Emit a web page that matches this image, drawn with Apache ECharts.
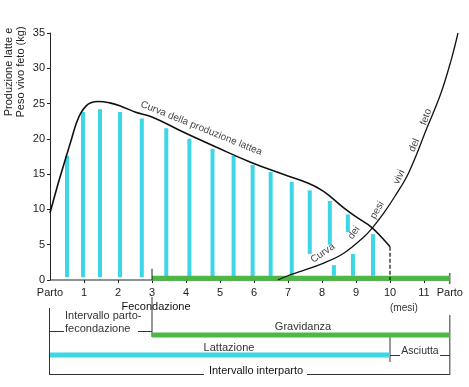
<!DOCTYPE html>
<html><head><meta charset="utf-8">
<script src="https://cdn.jsdelivr.net/npm/echarts@6/dist/echarts.min.js"></script>
<style>html,body{margin:0;padding:0;background:#fff}#c{width:469px;height:387px}</style>
</head><body><div id="c"></div>
<script>
// ---- data ----
const yTickValues = [0, 5, 10, 15, 20, 25, 30, 35];
const monthTickValues = [0, 1, 2, 3, 4, 5, 6, 7, 8, 9, 10, 11];
const partoEnd = 11.76;          // second "Parto" (end of interval)
const fecondazione = 3;          // month of conception
const fineLattazione = 10;       // end of lactation
const monthLabels = ['Parto', '1', '2', '3', '4', '5', '6', '7', '8', '9', '10', '11'];

// milk production bars (kg): month position, bottom, top
const barMonths  = [0.50, 0.97, 1.47, 2.06, 2.70, 3.42, 4.10, 4.78, 5.40, 5.96, 6.49, 7.11, 7.64, 8.23, 8.76, 9.50, 8.35, 8.91];
const barBottoms = [0.4, 0.4, 0.4, 0.4, 0.4, 0.4, 0.4, 0.4, 0.4, 0.4, 0.4, 0.4, 3.7, 5.0, 6.8, 0.6, 0.6, 0.6];
const barTops    = [17.6, 23.8, 24.2, 23.8, 22.9, 21.5, 20.0, 18.6, 17.6, 16.3, 15.3, 13.9, 12.7, 11.2, 9.3, 6.5, 2.1, 3.7];

// milk production curve
const milkMonths = [0, 0.2, 0.34, 0.49, 0.64, 0.76, 0.9, 1.05, 1.2, 1.42, 1.76, 2.1, 2.5, 3.0, 3.9, 4.9, 5.9, 6.9, 7.6, 8.0, 8.3, 8.65, 9.05, 9.45, 9.8, 10.0];
const milkValues = [9.5, 13.0, 15.3, 17.7, 20.1, 22.0, 23.6, 24.6, 25.1, 25.3, 25.1, 24.6, 23.8, 23.1, 21.0, 18.8, 16.7, 14.9, 13.7, 12.7, 11.6, 10.2, 8.8, 7.5, 5.8, 4.7];

// fetal live weight curve
const fetoMonths = [6.7, 7.0, 7.3, 8.05, 8.64, 9.23, 9.5, 9.82, 10.15, 10.55, 11.1, 11.5, 11.8, 12.0];
const fetoValues = [0, 0.6, 1.1, 2.4, 3.8, 6.1, 7.5, 9.5, 11.9, 15.2, 21.7, 26.5, 31.2, 35.0];

// curve annotations
const milkLabelText = ['Curva della produzione lattea'];
const milkLabelMonth = [4.45];
const milkLabelValue = [21.5];
const fetoLabelText = ['Curva', 'dei', 'pesi', 'vivi', 'del', 'feto'];
const fetoLabelMonth = [8.02, 8.94, 9.62, 10.27, 10.71, 11.06];
const fetoLabelValue = [3.8, 6.7, 9.9, 14.6, 19.1, 23.1];

// ---- styles ----
const FONT = '"Liberation Sans", Arial, sans-serif';
const CYAN = '#3CD6E7';
const GREEN = '#4CB944';
const milkLabelRot = [-22];
const fetoLabelRot = [34, 55, 60, 65, 66, 70];

const chart = echarts.init(document.getElementById('c'), null, {renderer: 'canvas'});

const segData = barMonths.map((m, i) => [m, barBottoms[i], barTops[i]]);

const labelData = [];
milkLabelText.forEach((t, i) => labelData.push({name: t, value: [milkLabelMonth[i], milkLabelValue[i]], label: {rotate: milkLabelRot[i]}}));
fetoLabelText.forEach((t, i) => labelData.push({name: t, value: [fetoLabelMonth[i], fetoLabelValue[i]], label: {rotate: fetoLabelRot[i]}}));

const option = {
  animation: false,
  backgroundColor: '#fff',
  textStyle: {fontFamily: FONT},
  grid: {left: 50, right: 11, top: 33, bottom: 107, containLabel: false},
  xAxis: {
    type: 'value', min: 0, max: 12, interval: 1,
    axisLine: {show: false},
    splitLine: {show: false},
    axisTick: {show: true, length: 3, lineStyle: {color: '#222'}, customValues: monthTickValues.slice(1)},
    axisLabel: {
      customValues: monthTickValues.concat([partoEnd]),
      fontFamily: FONT, fontSize: 11, color: '#222', margin: 7,
      formatter: v => (v > 11.5 ? 'Parto' : monthLabels[Math.round(v)])
    }
  },
  yAxis: {
    type: 'value', min: 0, max: 35, interval: 5,
    axisLine: {show: true, lineStyle: {color: '#222', width: 1}},
    axisTick: {show: true, length: 3, lineStyle: {color: '#222'}},
    splitLine: {show: false},
    axisLabel: {fontFamily: FONT, fontSize: 11, color: '#222', margin: 5}
  },
  series: [
    { // x axis baseline
      type: 'line', silent: true, clip: false, symbol: 'none',
      data: [[0, 0], [partoEnd, 0]],
      lineStyle: {color: '#222', width: 1}
    },
    { // milk bars
      type: 'custom', clip: false,
      renderItem: (params, api) => {
        const p1 = api.coord([api.value(0), api.value(1)]);
        const p2 = api.coord([api.value(0), api.value(2)]);
        return {type: 'rect', shape: {x: p1[0] - 2, y: p2[1], width: 4, height: p1[1] - p2[1]}, style: {fill: CYAN}};
      },
      encode: {x: 0, y: [1, 2]},
      data: segData
    },
    { // gravidanza bar on axis
      type: 'line', silent: true, clip: false, symbol: 'none',
      data: [[fecondazione, 0.25], [partoEnd, 0.25]],
      lineStyle: {color: GREEN, width: 5, cap: 'butt'}
    },
    { // fecondazione tick
      type: 'line', silent: true, clip: false, symbol: 'none',
      data: [[fecondazione, 0], [fecondazione, 1.6]],
      lineStyle: {color: '#222', width: 1}
    },
    { // milk curve
      type: 'line', silent: true, clip: false, symbol: 'none', smooth: 0.45,
      data: milkMonths.map((m, i) => [m, milkValues[i]]),
      lineStyle: {color: '#111', width: 1.6}
    },
    { // dashed end of lactation
      type: 'line', silent: true, clip: false, symbol: 'none',
      data: [[fineLattazione, milkValues[milkValues.length - 1]], [fineLattazione, 0]],
      lineStyle: {color: '#111', width: 1.2, type: [4, 2]}
    },
    { // fetal weight curve
      type: 'line', silent: true, clip: false, symbol: 'none', smooth: 0.4,
      data: fetoMonths.map((m, i) => [m, fetoValues[i]]),
      lineStyle: {color: '#111', width: 1.3}
    },
    { // curve labels
      type: 'scatter', silent: true, clip: false, symbolSize: 0,
      data: labelData,
      label: {show: true, position: 'inside', formatter: p => p.name, fontFamily: FONT, fontSize: 10, color: '#111'}
    }
  ]
};
chart.setOption(option);

const px = m => chart.convertToPixel({xAxisIndex: 0}, m);
const x0 = px(0), x3 = px(fecondazione), x10 = px(fineLattazione), xE = px(partoEnd);
const LC = '#333';
const line = (xa, ya, xb, yb, color, w) => ({type: 'line', silent: true, shape: {x1: xa, y1: ya, x2: xb, y2: yb}, style: {stroke: color || LC, lineWidth: w || 1}});
const text = (t, x, y, align, size, color) => ({type: 'text', silent: true, x: x, y: y, style: {text: t, fill: color || '#111', font: (size || 11) + 'px ' + FONT, textAlign: align || 'left', textVerticalAlign: 'middle'}});

chart.setOption({graphic: [
  {type: 'text', silent: true, x: 15, y: 72, rotation: Math.PI / 2,
   style: {text: 'Produzione latte e\nPeso vivo feto (kg)', fill: '#222', font: '11px ' + FONT, lineHeight: 12, textAlign: 'center', textVerticalAlign: 'middle'}},
  line(xE, 273, xE, 284, '#222', 1),
  text('Fecondazione', x3 + 4, 307, 'center', 11, '#111'),
  text('(mesi)', x10, 308, 'left', 10, '#333'),
  // vertical borders
  line(x0 - 0.5, 308, x0 - 0.5, 375),
  line(x3, 297, x3, 337),
  line(x10, 337, x10, 362),
  line(xE, 315, xE, 375),
  // row 1
  text('Intervallo parto-', 65, 316, 'left', 11, '#333'),
  text('fecondazione', 65, 329, 'left', 11, '#333'),
  line(x0, 331.5, 64, 331.5),
  line(138, 331.5, x3, 331.5),
  line(x3, 335, xE, 335, GREEN, 5),
  text('Gravidanza', 303, 327, 'center', 11, '#333'),
  // row 2
  line(x0, 355, x10, 355, CYAN, 5),
  text('Lattazione', 229, 348, 'center', 11, '#333'),
  line(x10, 355.5, 400, 355.5),
  text('Asciutta', 420, 351, 'center', 10.5, '#333'),
  line(440, 355.5, xE, 355.5),
  // row 3
  line(x0, 374.5, 204, 374.5),
  text('Intervallo interparto', 256, 371, 'center', 11, '#111'),
  line(307, 374.5, xE, 374.5)
]});
</script>
</body></html>
